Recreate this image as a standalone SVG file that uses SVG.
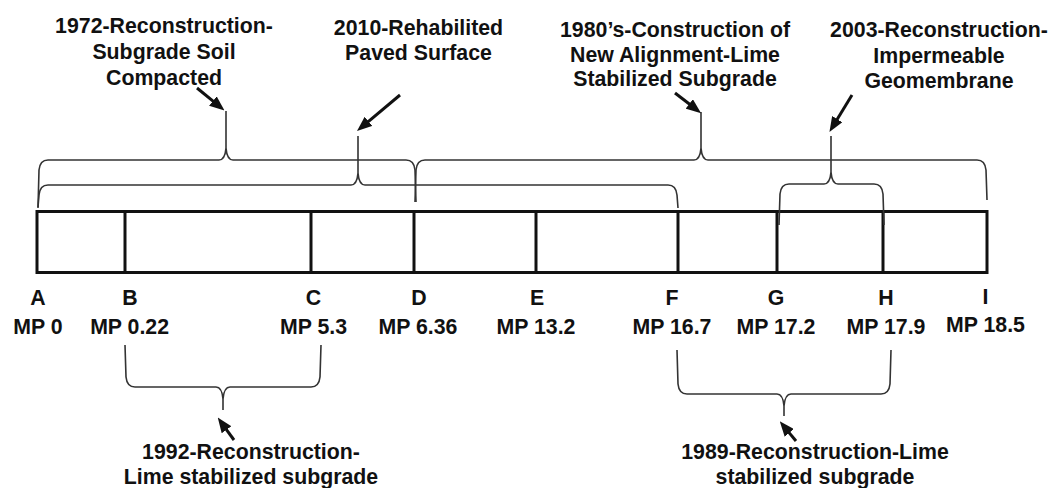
<svg xmlns="http://www.w3.org/2000/svg" width="1053" height="488" viewBox="0 0 1053 488">
<style>
.t{font-family:"Liberation Sans",Arial,sans-serif;font-weight:bold;font-size:21.3px;fill:#111;text-anchor:middle}
.br{fill:none;stroke:#333;stroke-width:1.6}
.ar{fill:none;stroke:#111;stroke-width:3}
.bx{fill:none;stroke:#111;stroke-width:3}
</style>
<defs>
<marker id="ah" markerUnits="userSpaceOnUse" markerWidth="15" markerHeight="12" refX="3" refY="6" orient="auto" viewBox="0 0 15 12">
<path d="M0,0 L15,6 L0,12 z" fill="#111"/>
</marker>
</defs>
<rect width="1053" height="488" fill="#fff"/>

<g id="road">
<rect class="bx" x="37" y="211.5" width="950" height="61"/>
<line class="bx" x1="125" y1="211.5" x2="125" y2="272.5"/>
<line class="bx" x1="311" y1="211.5" x2="311" y2="272.5"/>
<line class="bx" x1="414" y1="211.5" x2="414" y2="272.5"/>
<line class="bx" x1="536" y1="211.5" x2="536" y2="272.5"/>
<line class="bx" x1="678" y1="211.5" x2="678" y2="272.5"/>
<line class="bx" x1="777" y1="211.5" x2="777" y2="272.5"/>
<line class="bx" x1="883" y1="211.5" x2="883" y2="272.5"/>
</g>

<g id="points">
<g id="pA"><text class="t" x="38" y="305">A</text><text class="t" x="38" y="334">MP 0</text></g>
<g id="pB"><text class="t" x="130" y="305">B</text><text class="t" x="129.6" y="334">MP 0.22</text></g>
<g id="pC"><text class="t" x="313.5" y="305">C</text><text class="t" x="313.5" y="334">MP 5.3</text></g>
<g id="pD"><text class="t" x="419" y="305">D</text><text class="t" x="418" y="334">MP 6.36</text></g>
<g id="pE"><text class="t" x="537" y="305">E</text><text class="t" x="536" y="334">MP 13.2</text></g>
<g id="pF"><text class="t" x="672" y="305">F</text><text class="t" x="672" y="334">MP 16.7</text></g>
<g id="pG"><text class="t" x="776" y="305">G</text><text class="t" x="776" y="334">MP 17.2</text></g>
<g id="pH"><text class="t" x="886" y="305">H</text><text class="t" x="886" y="334">MP 17.9</text></g>
<g id="pI"><text class="t" x="985.5" y="304">I</text><text class="t" x="985.5" y="332">MP 18.5</text></g>
</g>

<g id="n1972">
<text class="t" x="164" y="33">1972-Reconstruction-</text>
<text class="t" x="164" y="59">Subgrade Soil</text>
<text class="t" x="164" y="85">Compacted</text>
</g>
<g id="n2010">
<text class="t" x="418.5" y="35">2010-Rehabilited</text>
<text class="t" x="418.5" y="60">Paved Surface</text>
</g>
<g id="n1980">
<text class="t" x="675" y="36.5">1980’s-Construction of</text>
<text class="t" x="675" y="61.5">New Alignment-Lime</text>
<text class="t" x="675" y="86">Stabilized Subgrade</text>
</g>
<g id="n2003">
<text class="t" x="939" y="37">2003-Reconstruction-</text>
<text class="t" x="939" y="63">Impermeable</text>
<text class="t" x="939" y="88">Geomembrane</text>
</g>
<g id="n1992">
<text class="t" x="251" y="458.5">1992-Reconstruction-</text>
<text class="t" x="251" y="483.5">Lime stabilized subgrade</text>
</g>
<g id="n1989">
<text class="t" x="815" y="458.5">1989-Reconstruction-Lime</text>
<text class="t" x="815" y="483.5">stabilized subgrade</text>
</g>

<g id="connectors">
<path class="br" d="M38,208 L39,170 Q40,160 48,160 L219,160 Q225,160 226,148 L226,111 M226,148 Q227,160 233,160 L406,160 Q414,160 415,170 L416,202"/>
<path class="br" d="M38,207 L39,195 Q40,185 48,185 L351,185 Q357,185 358,173 L358,136 M358,173 Q359,185 365,185 L668,185 Q676,185 677,195 L678,208"/>
<path class="br" d="M415,202 L416,170 Q417,160 425,160 L694,160 Q700,160 701,148 L701,112 M701,148 Q702,160 708,160 L977,160 Q985,160 986,170 L987,200"/>
<path class="br" d="M779,225 L780,194 Q781,184 789,184 L824,184 Q830,184 831,172 L831,136 M831,172 Q832,184 838,184 L874,184 Q882,184 883,194 L884,225"/>
<path class="br" d="M125,345 L126,377 Q127,387 135,387 L216,387 Q222,387 223,399 L223,410 M223,399 Q224,387 230,387 L311,387 Q319,387 320,377 L321,345"/>
<path class="br" d="M677,350 L678,384 Q679,394 687,394 L777,394 Q783,394 784,406 L784,416 M784,406 Q785,394 791,394 L881,394 Q889,394 890,384 L891,350"/>
<line class="ar" x1="197" y1="88" x2="215.2" y2="102.9" marker-end="url(#ah)"/>
<line class="ar" x1="400" y1="95" x2="366.2" y2="123.3" marker-end="url(#ah)"/>
<line class="ar" x1="675" y1="93" x2="691.6" y2="105.8" marker-end="url(#ah)"/>
<line class="ar" x1="852" y1="95" x2="835.7" y2="121.7" marker-end="url(#ah)"/>
<line class="ar" x1="234" y1="440" x2="224.8" y2="427.3" marker-end="url(#ah)"/>
<line class="ar" x1="796" y1="441" x2="787.4" y2="430.6" marker-end="url(#ah)"/>
</g>
</svg>
